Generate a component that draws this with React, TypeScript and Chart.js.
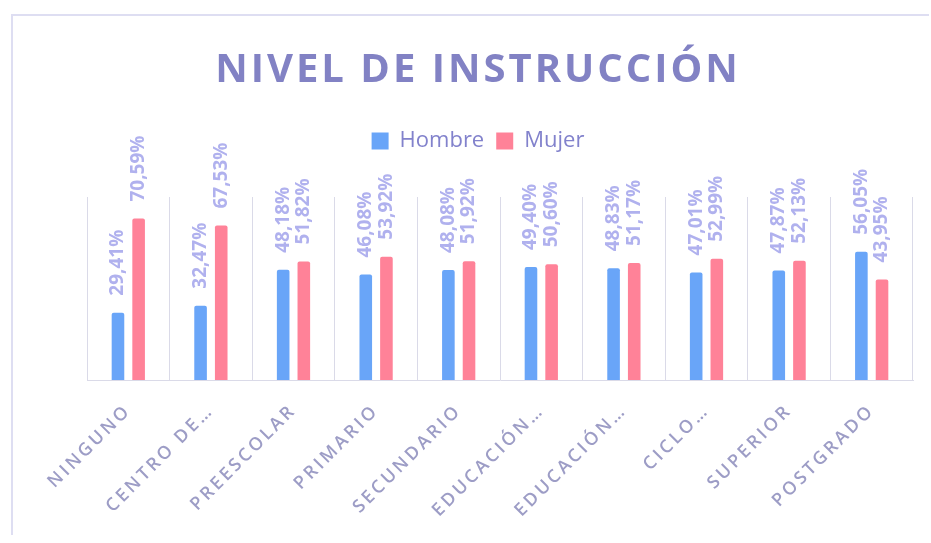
import React, { useEffect, useRef } from "react";
import { Chart, registerables } from "chart.js";

Chart.register(...registerables);

const categories = [
  "NINGUNO",
  "CENTRO DE…",
  "PREESCOLAR",
  "PRIMARIO",
  "SECUNDARIO",
  "EDUCACIÓN…",
  "EDUCACIÓN…",
  "CICLO…",
  "SUPERIOR",
  "POSTGRADO",
];
const hombre = [29.41, 32.47, 48.18, 46.08, 48.08, 49.4, 48.83, 47.01, 47.87, 56.05];
const mujer = [70.59, 67.53, 51.82, 53.92, 51.92, 50.6, 51.17, 52.99, 52.13, 43.95];
const seriesNames = ["Hombre", "Mujer"];
const titleText = "NIVEL DE INSTRUCCIÓN";

const BLUE = "#69a5f8";
const PINK = "#ff8298";
const FONT = "'Open Sans', 'DejaVu Sans', sans-serif";

const fmt = (v: number) => v.toFixed(2).replace(".", ",") + "%";

const framePlugin = {
  id: "frame",
  beforeDraw(chart: any) {
    const ctx = chart.ctx;
    ctx.save();
    ctx.fillStyle = "#ffffff";
    ctx.fillRect(0, 0, chart.width, chart.height);
    ctx.strokeStyle = "#dedef2";
    ctx.lineWidth = 2;
    ctx.beginPath();
    ctx.moveTo(12, chart.height - 8);
    ctx.lineTo(12, 15);
    ctx.lineTo(chart.width - 2, 15);
    ctx.stroke();
    ctx.restore();
  },
};

const tweakPlugin = {
  id: "tweak",
  afterInit(chart: any) {
    const lg = chart.legend;
    if (lg && !lg.__patched) {
      const orig = lg.fit;
      lg.fit = function () {
        orig.call(this);
        this.height += 35;
      };
      lg.__patched = true;
    }
    const tb = chart.titleBlock;
    if (tb && !tb.__patched) {
      const origDraw = tb.draw;
      tb.draw = function () {
        const ctx = this.ctx;
        ctx.save();
        ctx.letterSpacing = "3px";
        origDraw.call(this);
        ctx.restore();
      };
      tb.__patched = true;
    }
  },
  afterLayout(chart: any) {
    const sx = chart.scales.x;
    if (sx && !sx.__patched) {
      const orig = sx.drawLabels;
      sx.drawLabels = function (ca: any) {
        const ctx = this.ctx;
        ctx.save();
        ctx.letterSpacing = "3px";
        orig.call(this, ca);
        ctx.restore();
      };
      sx.__patched = true;
    }
  },
};

const labelPlugin = {
  id: "barLabels",
  afterDatasetsDraw(chart: any) {
    const ctx = chart.ctx;
    ctx.save();
    ctx.fillStyle = "#b0b1ee";
    ctx.font = `bold 19px ${FONT}`;
    ctx.textAlign = "left";
    ctx.textBaseline = "middle";
    chart.data.datasets.forEach((ds: any, i: number) => {
      const meta = chart.getDatasetMeta(i);
      meta.data.forEach((bar: any, j: number) => {
        ctx.save();
        ctx.translate(bar.x, bar.y - 17);
        ctx.rotate(-Math.PI / 2);
        ctx.fillText(fmt(ds.data[j]), 0, 0);
        ctx.restore();
      });
    });
    ctx.restore();
  },
};

export default function App() {
  const ref = useRef<HTMLCanvasElement | null>(null);
  useEffect(() => {
    if (!ref.current) return;
    const chart = new Chart(ref.current, {
      type: "bar",
      data: {
        labels: categories,
        datasets: [
          {
            label: seriesNames[0],
            data: hombre,
            backgroundColor: BLUE,
            borderRadius: 2,
            barPercentage: 0.61,
            categoryPercentage: 0.5,
          },
          {
            label: seriesNames[1],
            data: mujer,
            backgroundColor: PINK,
            borderRadius: 2,
            barPercentage: 0.61,
            categoryPercentage: 0.5,
          },
        ],
      },
      options: {
        responsive: false,
        animation: false,
        layout: { padding: { left: 43, right: 18, top: 0, bottom: 0 } },
        plugins: {
          title: {
            display: true,
            text: titleText,
            color: "#8282c4",
            font: { family: FONT, size: 40, weight: "bold" },
            padding: { top: 47, bottom: 23 },
          },
          legend: {
            display: true,
            position: "top",
            labels: {
              color: "#8282cc",
              font: { family: FONT, size: 22 },
              boxWidth: 17,
              boxHeight: 17,
              padding: 12,
            },
          },
          tooltip: { enabled: false },
        },
        scales: {
          x: {
            grid: {
              display: true,
              color: "#dadae8",
              lineWidth: 1,
              drawTicks: false,
              offset: true,
            },
            border: { display: true, color: "#dadae8" },
            ticks: {
              color: "#9d9dc6",
              font: { family: FONT, size: 18, weight: "600" },
              minRotation: 45,
              maxRotation: 45,
              autoSkip: false,
              padding: 20,
            },
            afterFit: (s: any) => {
              s.height = 163;
            },
          },
          y: {
            display: true,
            min: 0,
            max: 80,
            ticks: { display: false },
            grid: { display: false },
            border: { display: false },
            afterFit: (s: any) => {
              s.width = 44;
            },
          },
        },
      },
      plugins: [framePlugin, tweakPlugin, labelPlugin],
    });
    return () => chart.destroy();
  }, []);
  return (
    <canvas
      ref={ref}
      width={931}
      height={543}
      style={{ position: "absolute", left: 0, top: 0 }}
    />
  );
}
